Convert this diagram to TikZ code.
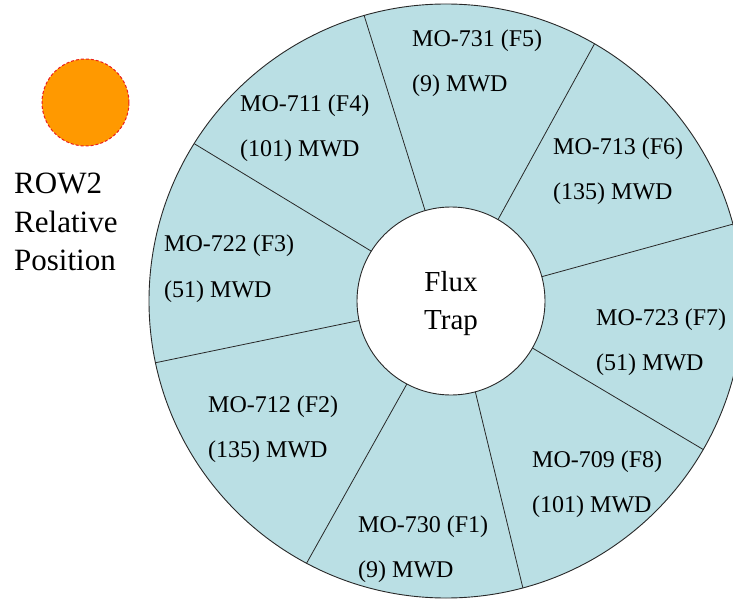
\documentclass[tikz,border=0pt]{standalone}
\usepackage{fontspec}
\setmainfont{Liberation Serif}
\usepackage{tikz}
\usetikzlibrary{calc}
\definecolor{cellblue}{RGB}{186,223,228}
\definecolor{rimdark}{RGB}{40,40,40}
\definecolor{markorange}{RGB}{255,153,0}
\definecolor{markred}{RGB}{235,30,30}
\tikzset{
  rim/.style={draw=rimdark, line width=0.9pt},
  divider/.style={draw=rimdark, line width=0.8pt},
  fuel/.style={anchor=base west, inner sep=0pt, font=\fontsize{24}{24}\selectfont},
  trap/.style={anchor=base, inner sep=0pt, font=\fontsize{29}{29}\selectfont},
  legend/.style={anchor=base west, inner sep=0pt, font=\fontsize{31}{31}\selectfont}
}

\begin{document}
\begin{tikzpicture}[x=1pt, y=1pt]
  \useasboundingbox (0,0) rectangle (733,598);
  \coordinate (oc) at (446,297);
  \coordinate (ic) at (451,297);
  % core rings
  \draw[rim, fill=cellblue] (oc) circle[radius=297];
  \draw[rim, fill=white] (ic) circle[radius=94];
  \foreach \a [count=\i] in {106,60,15,-30,-75,-118,192,148} {
    \coordinate (in\i) at ($(ic)+(\a:94)$);
    \coordinate (out\i) at ($(oc)+(\a:297)$);
    \draw[divider] (in\i) -- (out\i);
  }
  % fuel elements
  \foreach \nm/\x/\y/\id/\mwd in {f4/240/486/711 (F4)/101, f5/412/551/731 (F5)/9,
      f6/553/443/713 (F6)/135, f7/596/273/723 (F7)/51, f8/532/131/709 (F8)/101,
      f1/358/66/730 (F1)/9, f2/208/186/712 (F2)/135, f3/164/346/722 (F3)/51} {
    \node[fuel] (\nm id) at (\x,\y) {MO-\id};
    \node[fuel] (\nm mwd) at (\x,\y-45) {(\mwd) MWD};
  }
  \node[trap] (flux) at (451,307) {Flux};
  \node[trap] (trap) at (451,269) {Trap};
  % row marker
  \draw[fill=markorange, draw=markred, line width=1pt, dash pattern=on 3pt off 2pt]
    (85.5,495.5) coordinate (mark) circle[radius=43.5];
  \node[legend] (row) at (14,404) {ROW2};
  \node[legend] (rel) at (14,366) {Relative};
  \node[legend] (pos) at (14,328) {Position};
\end{tikzpicture}
\end{document}
